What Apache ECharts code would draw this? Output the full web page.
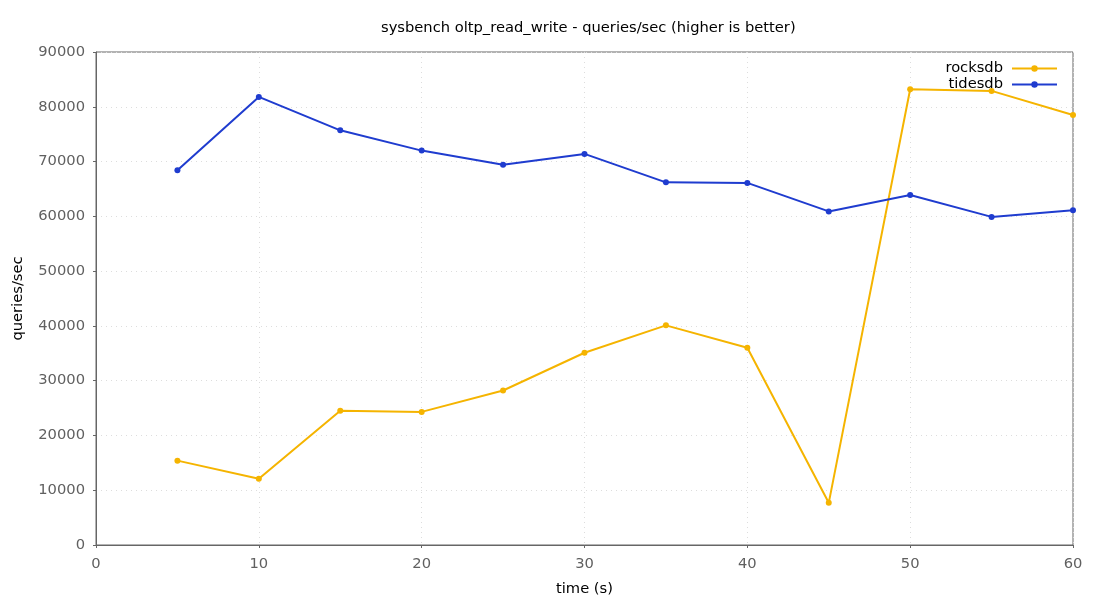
<!DOCTYPE html>
<html>
<head>
<meta charset="utf-8">
<script src="https://cdn.jsdelivr.net/npm/echarts@6/dist/echarts.min.js"></script>
<style>
  html, body { margin: 0; padding: 0; background: #fff; }
  #chart { width: 1100px; height: 600px; }
</style>
</head>
<body>
<div id="chart"></div>
<script>
// time in seconds
var times = [5, 10, 15, 20, 25, 30, 35, 40, 45, 50, 55, 60];
var rocksdb = [15400, 12100, 24500, 24300, 28200, 35100, 40100, 36000, 7700, 83200, 82900, 78500];
var tidesdb = [68400, 81800, 75700, 72000, 69400, 71400, 66200, 66100, 60900, 63900, 59900, 61100];

function pairs(xs, ys) {
  return xs.map(function (x, i) { return [x, ys[i]]; });
}

var font = "DejaVu Sans";
var myChart = echarts.init(document.getElementById("chart"));
var option = {
  backgroundColor: "#fff",
  animation: false,
  title: {
    text: "sysbench oltp_read_write - queries/sec (higher is better)",
    left: 376,
    top: 16,
    textStyle: { fontSize: 14.7, fontWeight: "normal", color: "#000", fontFamily: font },
  },
  legend: {
    orient: "vertical",
    right: 37,
    top: 56,
    align: "right",
    itemWidth: 45,
    itemHeight: 8,
    itemGap: 1,
    textStyle: { fontSize: 14.7, color: "#000", fontFamily: font, padding: [0, 4, 0, 0] },
    data: ["rocksdb", "tidesdb"],
  },
  grid: {
    left: 96,
    right: 27,
    top: 52,
    bottom: 55,
    outerBoundsMode: "none",
    show: true,
    borderColor: "#666",
    borderWidth: 1,
  },
  xAxis: {
    type: "value",
    min: 0,
    max: 60,
    interval: 10,
    name: "time (s)",
    nameLocation: "middle",
    nameGap: 37,
    nameTextStyle: { fontSize: 14.7, color: "#000", fontFamily: font },
    axisLine: { lineStyle: { color: "#666" } },
    axisTick: { inside: false, length: 3, lineStyle: { color: "#666" } },
    axisLabel: { fontSize: 14.7, color: "#606060", margin: 12, fontFamily: font },
    splitLine: { show: true, lineStyle: { color: "#ddd", type: [1, 4] } },
  },
  yAxis: {
    type: "value",
    min: 0,
    max: 90000,
    interval: 10000,
    name: "queries/sec",
    nameLocation: "middle",
    nameGap: 70,
    nameTextStyle: { fontSize: 14.7, color: "#000", fontFamily: font },
    axisLine: { show: true, lineStyle: { color: "#666" } },
    axisTick: { show: true, inside: false, length: 3, lineStyle: { color: "#666" } },
    axisLabel: { fontSize: 14.7, color: "#606060", margin: 11, fontFamily: font, formatter: function (v) { return String(v); } },
    splitLine: { show: true, lineStyle: { color: "#ddd", type: [1, 4] } },
  },
  series: [
    {
      name: "rocksdb",
      type: "line",
      data: pairs(times, rocksdb),
      symbol: "circle",
      symbolSize: 6,
      color: "#f5b400",
      lineStyle: { width: 2, color: "#f5b400" },
      itemStyle: { color: "#f5b400" },
    },
    {
      name: "tidesdb",
      type: "line",
      data: pairs(times, tidesdb),
      symbol: "circle",
      symbolSize: 6,
      color: "#1f3ccf",
      lineStyle: { width: 2, color: "#1f3ccf" },
      itemStyle: { color: "#1f3ccf" },
    },
  ],
};
option && myChart.setOption(option);
</script>
</body>
</html>
